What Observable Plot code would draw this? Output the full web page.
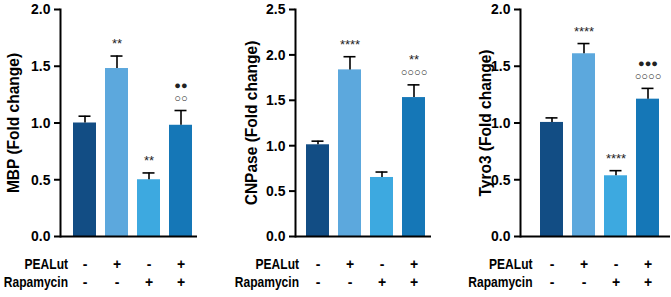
<!DOCTYPE html>
<html><head><meta charset="utf-8">
<script src="https://cdn.jsdelivr.net/npm/d3@7"></script>
<script src="https://cdn.jsdelivr.net/npm/@observablehq/plot@0.6"></script>
<style>
html,body{margin:0;padding:0;background:#fff;}
#wrap{position:relative;width:671px;height:297px;overflow:hidden;}
#wrap > div{position:absolute;top:0;}
svg{overflow:visible;}
</style></head>
<body><div id="wrap"></div>
<script>
const groups = ["ctrl", "pealut", "rapa", "both"];
const rowLabels = ["PEALut", "Rapamycin"];
const pealutRow = ["-", "+", "-", "+"];
const rapamycinRow = ["-", "-", "+", "+"];
const barColors = ["#124d84", "#5ca8dd", "#3da9e0", "#1577b7"];

const mbpMean = [1.00, 1.48, 0.50, 0.98];
const mbpErr = [0.06, 0.11, 0.06, 0.13];
const mbpAnnoLow = ["", "**", "**", "○○"];
const mbpAnnoHigh = ["", "", "", "●●"];

const cnpMean = [1.01, 1.835, 0.65, 1.53];
const cnpErr = [0.04, 0.145, 0.06, 0.14];
const cnpAnnoLow = ["", "****", "", "○○○○"];
const cnpAnnoHigh = ["", "", "", "**"];

const tyroMean = [1.005, 1.61, 0.535, 1.21];
const tyroErr = [0.04, 0.09, 0.045, 0.095];
const tyroAnnoLow = ["", "****", "****", "○○○○"];
const tyroAnnoHigh = ["", "", "", "●●●"];

const yTicks2 = [0, 0.5, 1.0, 1.5, 2.0];
const yTicks25 = [0, 0.5, 1.0, 1.5, 2.0, 2.5];

const FONT = "'Liberation Sans',Arial,Helvetica,sans-serif";
const isDot = s => /[●○]/.test(s);

function panel(cfg) {
  const rows = groups.map((g, i) => ({
    g, mean: cfg.mean[i], top: cfg.mean[i] + cfg.err[i], color: barColors[i],
    low: cfg.low[i], high: cfg.high[i], p: pealutRow[i], r: rapamycinRow[i]
  }));
  return Plot.plot({
    width: 224, height: 297,
    marginLeft: cfg.ml, marginRight: cfg.mr, marginTop: 9, marginBottom: 61,
    style: {fontFamily: FONT, background: "transparent", color: "#000"},
    x: {domain: groups, range: cfg.xr, paddingInner: 0.29, paddingOuter: 0.15, axis: null},
    y: {domain: [0, cfg.ymax], axis: null},
    color: {type: "identity"},
    marks: [
      Plot.barY(rows, {x: "g", y: "mean", fill: "color"}),
      Plot.ruleX(rows, {x: "g", y1: "mean", y2: "top", stroke: "#000", strokeWidth: 1.6}),
      Plot.tickY(rows, {x: "g", y: "top", stroke: "#000", strokeWidth: 1.6, insetLeft: 5.5, insetRight: 5.5}),
      Plot.text(rows, {x: "g", y: "top", text: "low", dy: -12, fontSize: d => isDot(d.low) ? 11 : 13, fill: "#222", lineAnchor: "middle", letterSpacing: 1}),
      Plot.text(rows, {x: "g", y: "top", text: "high", dy: -25, fontSize: d => isDot(d.high) ? 11 : 13, fill: "#222", lineAnchor: "middle", letterSpacing: 1}),
      Plot.axisY({ticks: cfg.ticks, tickFormat: d3.format(".1f"), tickSize: 6, tickPadding: 4, fontSize: 15, fontWeight: "bold", strokeWidth: 2, label: null}),
      Plot.frame({anchor: "left", strokeWidth: 2}),
      Plot.ruleY([0], {strokeWidth: 2}),
      Plot.text([cfg.label], {frameAnchor: "left", textAnchor: "middle", dx: cfg.labelDx, rotate: -90, fontSize: 16, fontWeight: "bold"}),
      Plot.text(rows, {x: "g", text: "p", frameAnchor: "bottom", dy: 32, fontSize: 14, fontWeight: "bold"}),
      Plot.text(rows, {x: "g", text: "r", frameAnchor: "bottom", dy: 50.5, fontSize: 14, fontWeight: "bold"}),
      Plot.text([groups[0]], {x: d => d, text: [rowLabels[0]], frameAnchor: "bottom", dy: 32, dx: cfg.rowDx, textAnchor: "end", fontSize: 14, fontWeight: "bold"}),
      Plot.text([groups[0]], {x: d => d, text: [rowLabels[1]], frameAnchor: "bottom", dy: 50.5, dx: cfg.rowDx, textAnchor: "end", fontSize: 14, fontWeight: "bold"})
    ]
  });
}

const panels = [
  {left: 0, ml: 60, mr: 27, xr: [67, 197], ymax: 2, ticks: yTicks2, mean: mbpMean, err: mbpErr, low: mbpAnnoLow, high: mbpAnnoHigh, label: "MBP (Fold change)", labelDx: -47, rowDx: -17},
  {left: 224, ml: 71, mr: 17, xr: [77, 206], ymax: 2.5, ticks: yTicks25, mean: cnpMean, err: cnpErr, low: cnpAnnoLow, high: cnpAnnoHigh, label: "CNPase (Fold change)", labelDx: -44, rowDx: -19},
  {left: 447, ml: 73, mr: 1, xr: [88, 217.5], ymax: 2, ticks: yTicks2, mean: tyroMean, err: tyroErr, low: tyroAnnoLow, high: tyroAnnoHigh, label: "Tyro3 (Fold change)", labelDx: -35, rowDx: -19.5}
];

function condense(t, s) {
  const tr = t.getAttribute("transform") || "";
  const xa = t.getAttribute("x") || "0";
  const x = /em/.test(xa) ? 0 : (parseFloat(xa) || 0);
  t.setAttribute("transform", `${tr} translate(${x},0) scale(${s},1) translate(${-x},0)`);
}

const wrap = document.getElementById("wrap");
for (const cfg of panels) {
  const d = document.createElement("div");
  d.style.left = cfg.left + "px";
  const svg = panel(cfg);
  svg.querySelectorAll('g[aria-label="y-axis tick label"] text').forEach(t => condense(t, 0.93));
  svg.querySelectorAll("text").forEach(t => {
    const c = t.textContent;
    if (rowLabels.includes(c)) condense(t, 0.86);
    else if (c === cfg.label) condense(t, 0.97);
  });
  d.appendChild(svg);
  wrap.appendChild(d);
}
</script>
</body></html>
